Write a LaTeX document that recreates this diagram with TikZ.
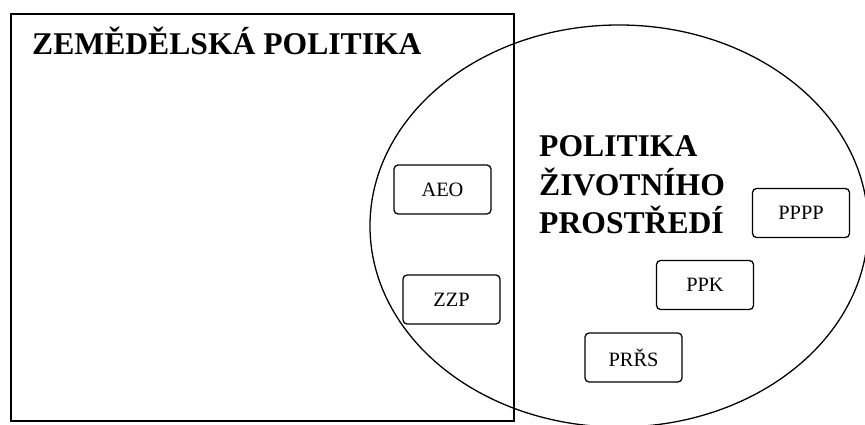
\documentclass[tikz,border=0pt]{standalone}
\usepackage{fontspec}
\setmainfont{Liberation Serif}
\begin{document}
\begin{tikzpicture}[x=0.03cm,y=-0.03cm,
  frame/.style={draw=black,line width=1.5pt},
  oval/.style={draw=black,line width=1.1pt},
  heading/.style={font=\fontsize{27}{32}\selectfont\bfseries,inner sep=0pt,anchor=base west},
  tag/.style={draw=black,line width=1.1pt,rounded corners=3.5pt,
    minimum width=2.91cm,minimum height=1.47cm,inner sep=0pt,
    font=\fontsize{17.4}{20}\selectfont}]
  \useasboundingbox (0,0) rectangle (865,425);
  \clip (0,0) rectangle (865,425);
  \fill[white] (0,0) rectangle (865,425);

  % agricultural policy block
  \draw[frame] (11,14) rectangle (514,421);
  \node[heading] (agri) at (32,55) {ZEMĚDĚLSKÁ POLITIKA};

  % environmental policy area
  \draw[oval] (619,226) ellipse [x radius=7.47cm, y radius=6.03cm];
  \node[heading] (env1) at (539,157) {POLITIKA};
  \node[heading] (env2) at (539,195) {ŽIVOTNÍHO};
  \node[heading] (env3) at (539,233) {PROSTŘEDÍ};

  % instruments
  \node[tag] (aeo)  at (442.5,189.5) {AEO};
  \node[tag] (zzp)  at (451.5,299.5) {ZZP};
  \node[tag] (pppp) at (801,213)     {PPPP};
  \node[tag] (ppk)  at (705,285)     {PPK};
  \node[tag] (prrs) at (633.5,357.5) {PRŘS};
\end{tikzpicture}
\end{document}
